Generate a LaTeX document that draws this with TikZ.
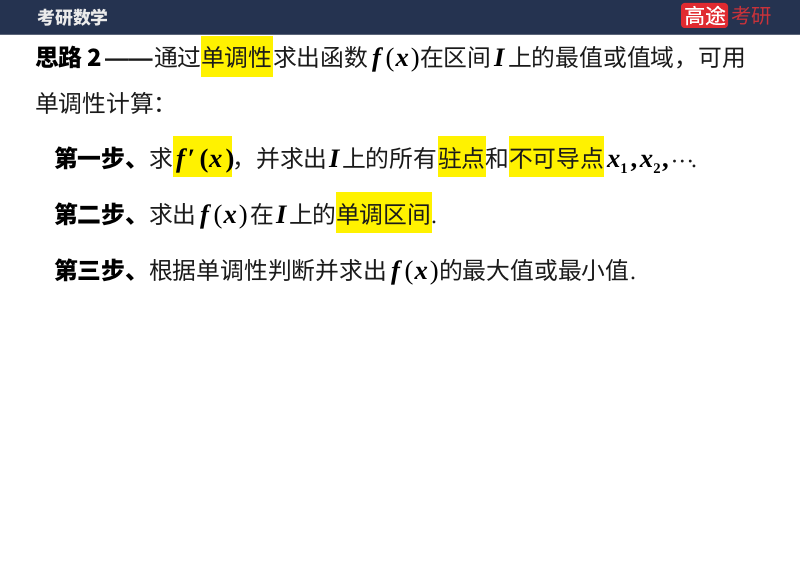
\documentclass[tikz,border=0pt]{standalone}
\usepackage{fontspec}
\setmainfont{Noto Sans CJK SC}
\newfontfamily\mathserif{Liberation Serif}
\newfontfamily\dashfont{Liberation Sans}
\newcommand{\vb}[1]{{\mathserif\bfseries\itshape #1}}
\newcommand{\vr}[1]{{\mathserif #1}}
\newcommand{\vB}[1]{{\mathserif\bfseries #1}}
\newcommand{\fofx}{\vb{f}\kern3.6pt\vr{(}\kern0.8pt\vb{x}\kern1.4pt\vr{)}}
\newcommand{\subn}[1]{\raisebox{-4pt}{\fontsize{11pt}{12pt}\selectfont\mathserif\bfseries #1}}
\definecolor{hdr}{HTML}{253350}
\definecolor{hdrline}{HTML}{5A6478}
\definecolor{logored}{HTML}{E02A30}
\definecolor{dimred}{HTML}{C8323A}
\definecolor{ink}{HTML}{1A1A1A}
\tikzset{x=0.75pt,y=-0.75pt,
  txt/.style={anchor=base west,inner sep=0pt,outer sep=0pt,font=\fontsize{17.85pt}{20pt}\selectfont,text=ink},
  bld/.style={txt,font=\fontsize{17.85pt}{20pt}\selectfont\bfseries,text=black},
  mth/.style={txt,font=\fontsize{20pt}{22pt}\selectfont,text=black},
  hl/.style={fill=yellow,draw=none}}
\begin{document}
\begin{tikzpicture}
\useasboundingbox (0,0) rectangle (800,566);
\fill[white] (0,0) rectangle (800,566);
% header
\fill[hdr] (0,0) rectangle (800,34);
\fill[hdrline] (0,34) rectangle (800,35);
\node[anchor=base west,inner sep=0pt,font=\fontsize{13.4pt}{15pt}\selectfont\bfseries,text=white!92!black] (title) at (37,24.5) {考研数学};
\fill[logored,rounded corners=2.5pt] (681,3) rectangle (728,28);
\node[anchor=base west,inner sep=0pt,font=\fontsize{15.6pt}{18pt}\selectfont,text=white] (gt) at (684,23.5) {\addfontfeature{FakeBold=0.6}高途};
\node[anchor=base west,inner sep=0pt,font=\fontsize{15.3pt}{18pt}\selectfont,text=dimred] (ky) at (731,24) {考研};
% highlights
\fill[hl] (201,36) rectangle (272.5,77);
\fill[hl] (173,136) rectangle (232,177);
\fill[hl] (438,136) rectangle (485.5,177);
\fill[hl] (509,136) rectangle (604,177);
\fill[hl] (336,192) rectangle (431.5,233);
% line 1
\node[bld] (a1) at (35,67) {思路\kern3.6pt 2};
\node[txt,font=\fontsize{17.85pt}{20pt}\selectfont\dashfont\bfseries] (a2) at (105,67) {——};
\node[txt] (a3) at (154,67) {通过};
\node[txt] (a4) at (201,67) {单调性};
\node[txt] (a5) at (273,67) {求出函数};
\node[mth] (a6) at (372,67) {\fofx};
\node[txt] (a7) at (420,67) {在区间};
\node[mth] (a8) at (494,67) {\vb{I}};
\node[txt] (a9) at (508,67) {上的最值或值域，可用};
% line 2
\node[txt] (b1) at (35,113) {单调性计算：};
% line 3
\node[bld] (c1) at (54,168) {第一步、};
\node[txt] (c2) at (149,168) {求};
\node[mth] (c3) at (176,168) {\vb{f}\kern2.3pt\vB{′}\kern3.2pt\vB{(}\kern0.4pt\vb{x}\kern2.4pt\vB{)}};
\node[txt] (c4) at (232.5,168) {，并求出};
\node[mth] (c5) at (329,168) {\vb{I}};
\node[txt] (c6) at (342,168) {上的所有};
\node[txt] (c7) at (438,168) {驻点};
\node[txt] (c8) at (485,168) {和};
\node[txt] (c9) at (509,168) {不可导点};
\node[mth] (c10) at (607,168) {\vb{x}\subn{1}\kern2.2pt\vB{,}\kern2pt\vb{x}\subn{2}\kern1.2pt\vB{,}};
\node[txt,font=\fontsize{18pt}{20pt}\selectfont\mathserif] (c12) at (670.5,170) {···};
\node[txt] (c11) at (691,168) {\vr{.}};
% line 4
\node[bld] (d1) at (54,224) {第二步、};
\node[txt] (d2) at (149,224) {求出};
\node[mth] (d3) at (200,224) {\fofx};
\node[txt] (d4) at (250,224) {在};
\node[mth] (d5) at (276,224) {\vb{I}};
\node[txt] (d6) at (289,224) {上的};
\node[txt] (d7) at (336,224) {单调区间};
\node[txt] (d8) at (431,224) {\vr{.}};
% line 5
\node[bld] (e1) at (54,280) {第三步、};
\node[txt] (e2) at (149,280) {根据单调性判断并求出};
\node[mth] (e3) at (391,280) {\fofx};
\node[txt] (e4) at (439,280) {的最大值或最小值};
\node[txt] (e5) at (630,280) {\vr{.}};
\end{tikzpicture}
\end{document}
